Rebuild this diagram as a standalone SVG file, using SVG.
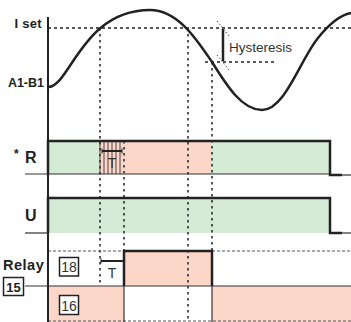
<svg xmlns="http://www.w3.org/2000/svg" width="351" height="322" viewBox="0 0 351 322">
<style>
.lbl{font-family:"Liberation Sans",Arial,sans-serif;font-weight:bold;fill:#222}
.reg{font-family:"Liberation Sans",Arial,sans-serif;fill:#333}
.dash{stroke:#222;stroke-width:1.3;stroke-dasharray:3,3;fill:none}
.dot{stroke:#222;stroke-width:1.5;stroke-dasharray:2.5,3.5;fill:none}
.gdash{stroke:#555;stroke-width:1;stroke-dasharray:3,2;fill:none}
.thick{stroke:#222;stroke-width:2.5;fill:none}
.thin{stroke:#333;stroke-width:1.2;fill:none}
.green{fill:#d5ead4}
.pink{fill:#fdd6ca}
.box{fill:#fff;stroke:#222;stroke-width:1.5}
</style>
<rect width="351" height="322" fill="#fff"/>

<g id="fills">
<rect class="green" x="48" y="141" width="52" height="33"/>
<rect class="pink" x="100" y="141" width="112" height="33"/>
<rect class="green" x="212" y="141" width="118" height="33"/>
<rect class="green" x="48" y="198" width="282" height="35"/>
<rect class="pink" x="124" y="251" width="88" height="35"/>
<rect class="pink" x="48" y="286" width="76" height="36"/>
<rect class="pink" x="212" y="286" width="139" height="36"/>
</g>

<g id="guides">
<line class="dash" x1="48" y1="28" x2="351" y2="28"/>
<line class="dash" x1="205" y1="62" x2="277" y2="62"/>
<line class="dot" x1="100" y1="28" x2="100" y2="286"/>
<line class="dot" x1="124" y1="141" x2="124" y2="251"/>
<line class="dot" x1="188" y1="28" x2="188" y2="322"/>
<line class="dot" x1="212" y1="62" x2="212" y2="251"/>
<line class="gdash" x1="48" y1="251" x2="124" y2="251"/>
<line class="gdash" x1="212" y1="251" x2="351" y2="251"/>
<line class="gdash" x1="48" y1="321" x2="351" y2="321"/>
</g>

<g id="hatch" stroke="#333" stroke-width="0.9">
<line x1="100" y1="141" x2="100" y2="174"/>
<line x1="104" y1="141" x2="104" y2="174"/>
<line x1="108" y1="141" x2="108" y2="174"/>
<line x1="112" y1="141" x2="112" y2="174"/>
<line x1="116" y1="141" x2="116" y2="174"/>
<line x1="120" y1="141" x2="120" y2="174"/>
</g>

<g id="axis">
<line x1="48" y1="17" x2="48" y2="322" stroke="#222" stroke-width="2"/>
</g>

<g id="curve">
<path d="M48,87 C70,87 82,10 150,10 C178,10 197,40 212,62 C227,86 242,110 262,110 C285,110 300,60 318,38 C330,23 340,15 351,13" stroke="#222" stroke-width="2.5" fill="none"/>
</g>

<g id="hysteresis">
<line x1="223" y1="29" x2="223" y2="61" stroke="#222" stroke-width="2.5"/>
<line x1="217" y1="21" x2="229" y2="36" stroke="#333" stroke-width="0.9" stroke-dasharray="1.5,2"/>
<line x1="217" y1="55" x2="229" y2="70" stroke="#333" stroke-width="0.9" stroke-dasharray="1.5,2"/>
<text class="reg" x="229" y="52" font-size="13.5">Hysteresis</text>
</g>

<g id="signal-R">
<line class="thin" x1="25" y1="174" x2="330" y2="174"/>
<path class="thick" d="M48,174 V141 H330 V175 H342"/>
<line class="thin" x1="342" y1="175" x2="351" y2="175"/>
<line x1="102" y1="151" x2="122" y2="151" stroke="#222" stroke-width="2"/>
<line x1="102" y1="148.5" x2="102" y2="153.5" stroke="#222" stroke-width="1"/>
<line x1="122" y1="148.5" x2="122" y2="153.5" stroke="#222" stroke-width="1"/>
<text class="reg" x="112" y="168" font-size="14" text-anchor="middle">T</text>
</g>

<g id="signal-U">
<line class="thin" x1="25" y1="233" x2="48" y2="233"/>
<path class="thick" d="M48,233 V198 H330 V233 H342"/>
<line class="thin" x1="342" y1="233" x2="351" y2="233"/>
</g>

<g id="relay">
<line class="thin" x1="25" y1="286" x2="351" y2="286"/>
<line class="thin" x1="124" y1="286" x2="124" y2="322"/>
<line class="thin" x1="212" y1="286" x2="212" y2="322"/>
<path class="thick" d="M124,286 V251 H212 V286"/>
<line x1="101" y1="261" x2="123" y2="261" stroke="#222" stroke-width="2"/>
<line x1="101" y1="258.5" x2="101" y2="263.5" stroke="#222" stroke-width="1"/>
<text class="reg" x="112" y="278" font-size="14" text-anchor="middle">T</text>
</g>

<g id="labels">
<text class="lbl" x="42" y="28" font-size="13" text-anchor="end" letter-spacing="0.3">I set</text>
<text class="lbl" x="44" y="87" font-size="12.5" text-anchor="end">A1-B1</text>
<text class="lbl" x="14" y="158" font-size="12">*</text>
<text class="lbl" x="25" y="163" font-size="16">R</text>
<text class="lbl" x="25" y="221" font-size="16">U</text>
<text class="lbl" x="3" y="270" font-size="14.5" letter-spacing="0.5">Relay</text>
</g>

<g id="box15">
<rect class="box" x="3.5" y="277.5" width="20" height="18"/>
<text class="lbl" x="13.5" y="291.5" font-size="13" text-anchor="middle">15</text>
</g>
<g id="box18">
<rect class="box" x="59.5" y="257.5" width="19" height="18.5"/>
<text class="reg" x="69" y="272" font-size="14" text-anchor="middle">18</text>
</g>
<g id="box16">
<rect class="box" x="59.5" y="295.5" width="19" height="19"/>
<text class="reg" x="69" y="310.5" font-size="14" text-anchor="middle">16</text>
</g>
</svg>
